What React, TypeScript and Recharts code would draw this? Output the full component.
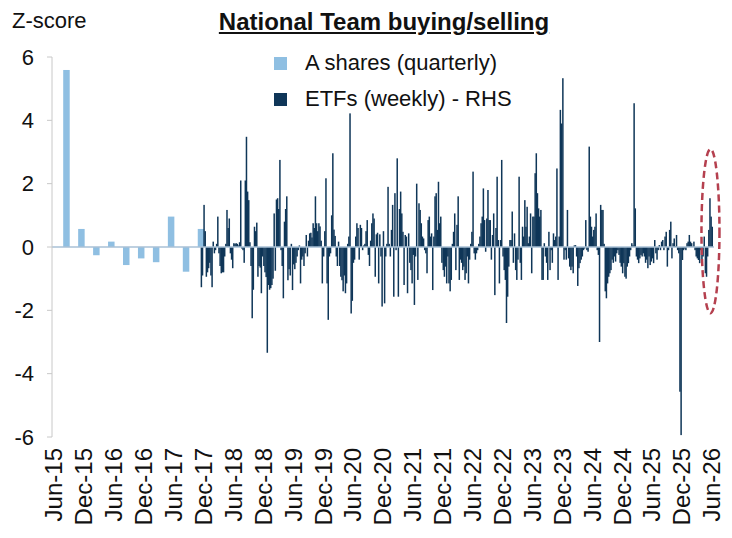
import React from 'react';
import { ComposedChart, Bar, XAxis, YAxis, ReferenceLine, ReferenceDot } from 'recharts';

const FONT = '"Liberation Sans", Arial, Helvetica, sans-serif';
const LIGHT = '#8fbfe2';
const NAVY = '#0f3658';

// Quarterly A-share buying (z-score), one value per quarter end month
const quarterMonths = ['2015-09', '2015-12', '2016-03', '2016-06', '2016-09', '2016-12', '2017-03', '2017-06', '2017-09', '2017-12'];
const aShares = [5.59, 0.57, -0.26, 0.17, -0.57, -0.36, -0.48, 0.96, -0.78, 0.57];

// Weekly ETF buying (z-score), one array per calendar year
const etfDec17 = [-1.27, -0.9];
const etf2018 = [
  1.33, 0.5, -0.94, -0.8, -0.67, -0.5, -0.9, -1.27, 0.17, -0.2,
  -0.1, 0.1, 0.96, -0.2, -0.6, -0.83, -0.8, -0.8, -0.3, 0.1,
  1.17, 0.6, 0.9, -0.2, -0.4, -0.67, 0.12, 0.1, 0.12, 0.1,
  0.05, 0.15, 2.1, -0.05, -0.1, -0.5, 2.1, 3.48, 1.75, 1.48,
  0.15, -0.6, -2.25, -1.35, 0.64, 0.5, 0.77, -0.94, -0.6, -0.65,
  -1.46, -0.3,
];
const etf2019 = [
  -0.6, -0.8, -0.95, -3.34, -1.2, -1.35, -1.3, -1.2, -1.0, 1.06,
  -0.75, 1.5, 1.54, 1.2, 2.75, -0.1, -0.6, -1.62, 0.8, 1.2,
  1.6, -1.05, -0.7, -0.9, 0.1, -1.36, -0.55, -0.7, -0.5, -0.3,
  -0.1, 0.05, -1.15, -0.4, -0.3, -0.6, -0.2, 0.38, -0.3, 0.2,
  0.43, 0.45, 0.3, 0.75, 0.6, 1.6, 0.75, 0.5, 0.75, 0.65,
  0.2, -1.15,
];
const etf2020 = [
  -0.3, 0.5, 2.17, -1.15, -2.3, -0.3, -0.2, 1.0, 2.96, 0.55,
  0.35, -0.3, -0.6, 0.17, -0.6, -0.94, -1.05, -1.4, -0.9, -1.46,
  -1.15, 0.1, 0.33, 4.22, -2.1, -1.7, -0.5, -0.4, 0.33, 0.75,
  0.6, -0.4, 0.7, 0.6, -0.1, 0.05, 0.1, 0.5, 0.85, -0.25,
  -0.6, 0.2, 0.75, 1.06, 0.9, -0.94, 0.4, 0.45, -1.15, 0.4,
  -0.3, -1.88,
];
const etf2021 = [
  0.5, -1.78, -0.3, 0.1, 1.9, 0.1, -0.3, 0.54, 1.33, -1.57,
  1.7, -0.1, 2.8, -1.57, 1.2, 1.75, 1.06, 0.48, -1.2, 0.38,
  0.33, -1.46, 0.43, -0.5, -0.73, -1.15, -0.25, -1.83, -0.3, 2.0,
  -1.04, 1.38, 1.17, 0.75, 0.33, 0.27, -0.1, -0.2, -0.83, 0.85,
  0.96, 0.33, 0.43, -1.36, 0.33, 1.6, 1.7, 0.54, 2.06, 0.75,
  0.96, -0.5,
];
const etf2022 = [
  -0.73, -0.94, -0.62, -1.15, -0.3, -1.15, -1.4, -1.04, 0.1, 0.48,
  1.06, -0.73, 0.7, 1.6, -1.04, -0.4, -0.5, -0.73, -0.62, -1.04,
  -0.83, -0.3, -1.15, -0.4, 0.1, 0.48, 2.38, -0.2, -0.4, -0.2,
  -0.1, 0.1, 0.33, 0.75, 0.96, 1.85, 0.85, -0.15, 0.9, 1.8,
  0.85, 0.85, -0.4, 0.38, 1.06, -1.52, 0.6, 2.22, 0.22, -1.15,
  0.22, 2.75,
];
const etf2023 = [
  -0.3, -0.73, -1.04, -2.4, -1.57, -0.62, 0.22, 0.22, 1.12, -0.5,
  0.43, -0.73, -1.04, -0.4, 2.22, -0.5, -1.04, 0.64, 0.33, 1.48,
  0.64, 1.27, 0.12, 0.33, 1.06, -0.83, 0.96, 0.96, 2.33, 2.96,
  1.7, 1.22, 0.96, 1.17, -1.04, -1.04, 0.12, -0.3, -0.5, -1.04,
  0.48, -0.73, -0.1, -0.5, 0.43, 0.22, 0.33, 2.48, -1.04, 0.33,
  4.33, 3.9,
];
const etf2024 = [
  5.33, -0.4, -0.1, -0.4, 1.17, -0.36, -0.62, -0.73, -0.62, -0.83,
  0.05, 0.06, -0.3, -1.23, -0.67, -0.51, -0.4, -0.3, -0.1, -0.05,
  0.85, -0.1, -0.15, 3.17, 0.96, 0.64, 0.33, 0.54, 0.64, 1.06,
  -0.1, -0.25, -3.0, 1.33, 1.17, 1.17, 0.1, -1.4, -1.62, -1.15,
  -0.94, -0.83, -0.73, -0.4, -0.5, -0.3, -0.46, -0.2, -0.1, -0.25,
  -0.5, -0.62,
];
const etf2025 = [
  -0.83, -0.51, -0.94, -1.0, -0.62, -0.51, -0.3, -0.1, 0.12, 0.05,
  4.54, 1.22, -0.3, -0.4, -0.51, -0.36, -0.25, -0.3, -0.2, -0.3,
  -0.5, -0.4, -0.67, -0.3, -0.57, -0.46, -0.36, -0.51, 0.22, -0.2,
  -0.4, -0.1, 0.06, -0.1, 0.17, 0.22, -0.1, 0.33, 0.48, -0.62,
  -0.1, 0.54, 0.8, -0.36, 0.12, 0.27, 0.03, 0.38, -0.1, -0.2,
  -4.57, -5.94,
];
const etf2026 = [
  -0.41, -0.1, -0.05, -0.1, 0.12, 0.17, 0.38, 0.17, 0.12, 0.01,
  0.17, -0.1, -0.3, -0.36, -0.41, -0.51, -0.1, -0.41, -0.3, 0.33,
  -0.83, -0.94, -0.3, 0.54, 1.54, 0.96, 0.64,
];

// start of each weekly block, in decimal years
const etfBlocks: [number, number[]][] = [
  [2017.955, etfDec17],
  [2018, etf2018],
  [2019, etf2019],
  [2020, etf2020],
  [2021, etf2021],
  [2022, etf2022],
  [2023, etf2023],
  [2024, etf2024],
  [2025, etf2025],
  [2026, etf2026],
];

const xTickLabels = [
  'Jun-15', 'Dec-15', 'Jun-16', 'Dec-16', 'Jun-17', 'Dec-17', 'Jun-18', 'Dec-18',
  'Jun-19', 'Dec-19', 'Jun-20', 'Dec-20', 'Jun-21', 'Dec-21', 'Jun-22', 'Dec-22',
  'Jun-23', 'Dec-23', 'Jun-24', 'Dec-24', 'Jun-25', 'Dec-25', 'Jun-26',
];
const yTicks = [-6, -4, -2, 0, 2, 4, 6];

// Jun-YY sits at mid-year, Dec-YY at the year end
const tickPos = (lbl: string) => 2000 + Number(lbl.slice(4)) + (lbl.startsWith('Jun') ? 0.5 : 1);
const xTicks = xTickLabels.map(tickPos);
const X_DOMAIN: [number, number] = [2015.4666, 2026.537];

const chartData = [
  ...quarterMonths.map((m, i) => {
    const [y, mo] = m.split('-').map(Number);
    return { t: y + (mo - 0.5) / 12, a: aShares[i] };
  }),
  ...etfBlocks.flatMap(([start, vals]) =>
    vals.map((v, i) => ({ t: start + ((i + 0.5) * 7) / 365.25, e: v }))
  ),
];

// bars on a numeric axis get a tiny band, so draw them at a fixed width around their centre
const fixedWidthBar = (w: number) => (p: any) => {
  const { x, y, width, height, fill } = p;
  if (x == null || y == null || height == null) return <g />;
  const cx = x + (width || 0) / 2;
  return <rect x={cx - w / 2} y={Math.min(y, y + height)} width={w} height={Math.abs(height)} fill={fill} />;
};

const DateTick = (props: any) => {
  const { x, y, payload } = props;
  const idx = xTicks.findIndex((t) => Math.abs(t - payload.value) < 1e-6);
  return (
    <text
      transform={`translate(${x},${y + 3}) rotate(-90)`}
      textAnchor="end"
      dominantBaseline="central"
      fontSize={24}
      fontFamily={FONT}
      fill="#111"
    >
      {idx >= 0 ? xTickLabels[idx] : ''}
    </text>
  );
};

const legendRow = (top: number, color: string, label: string) => (
  <div
    style={{
      position: 'absolute',
      left: 274,
      top,
      height: 24,
      display: 'flex',
      alignItems: 'center',
      fontFamily: FONT,
      fontSize: 22,
      color: '#111',
      whiteSpace: 'nowrap',
    }}
  >
    <span style={{ width: 13, height: 13, background: color, display: 'inline-block', marginRight: 18 }} />
    {label}
  </div>
);

export default function App() {
  return (
    <div style={{ position: 'absolute', left: 0, top: 0, width: 732, height: 538, background: '#fff' }}>
      <ComposedChart
        width={732}
        height={538}
        data={chartData}
        margin={{ top: 57, right: 18, bottom: 0, left: 0 }}
      >
        <XAxis
          xAxisId="w"
          dataKey="t"
          type="number"
          domain={X_DOMAIN}
          ticks={xTicks}
          interval={0}
          allowDataOverflow
          axisLine={false}
          tickLine={false}
          height={101}
          tick={<DateTick />}
        />
        <XAxis xAxisId="q" dataKey="t" type="number" domain={X_DOMAIN} allowDataOverflow hide height={0} />
        <YAxis
          domain={[-6, 6]}
          ticks={yTicks}
          interval={0}
          width={52}
          axisLine={{ stroke: '#c8c8c8' }}
          tickLine={{ stroke: '#c8c8c8' }}
          tickSize={5}
          tickMargin={13}
          tick={{ fontSize: 22, fill: '#111', fontFamily: FONT }}
        />
        <Bar
          xAxisId="q"
          dataKey="a"
          name="A shares (quarterly)"
          fill={LIGHT}
          shape={fixedWidthBar(6.5)}
          isAnimationActive={false}
        />
        <Bar
          xAxisId="w"
          dataKey="e"
          name="ETFs (weekly) - RHS"
          fill={NAVY}
          shape={fixedWidthBar(1.5)}
          isAnimationActive={false}
        />
        <ReferenceLine xAxisId="w" y={0} stroke="#a9c1d6" strokeWidth={1.5} />
        <ReferenceDot
          xAxisId="w"
          x={2026.478}
          y={0.5}
          r={1}
          ifOverflow="visible"
          shape={(p: any) => (
            <ellipse
              cx={p.cx}
              cy={p.cy}
              rx={9}
              ry={82}
              fill="none"
              stroke="#b5404f"
              strokeWidth={2.5}
              strokeDasharray="7 4"
            />
          )}
        />
      </ComposedChart>

      <div style={{ position: 'absolute', left: 12, top: 10, fontFamily: FONT, fontSize: 22, lineHeight: '22px', color: '#111' }}>
        Z-score
      </div>
      <div
        style={{
          position: 'absolute',
          left: 384,
          top: 10,
          transform: 'translateX(-50%)',
          fontFamily: FONT,
          fontSize: 24,
          lineHeight: '24px',
          fontWeight: 'bold',
          textDecoration: 'underline',
          whiteSpace: 'nowrap',
          color: '#111',
        }}
      >
        National Team buying/selling
      </div>
      {legendRow(51, LIGHT, 'A shares (quarterly)')}
      {legendRow(87, NAVY, 'ETFs (weekly) - RHS')}
    </div>
  );
}
